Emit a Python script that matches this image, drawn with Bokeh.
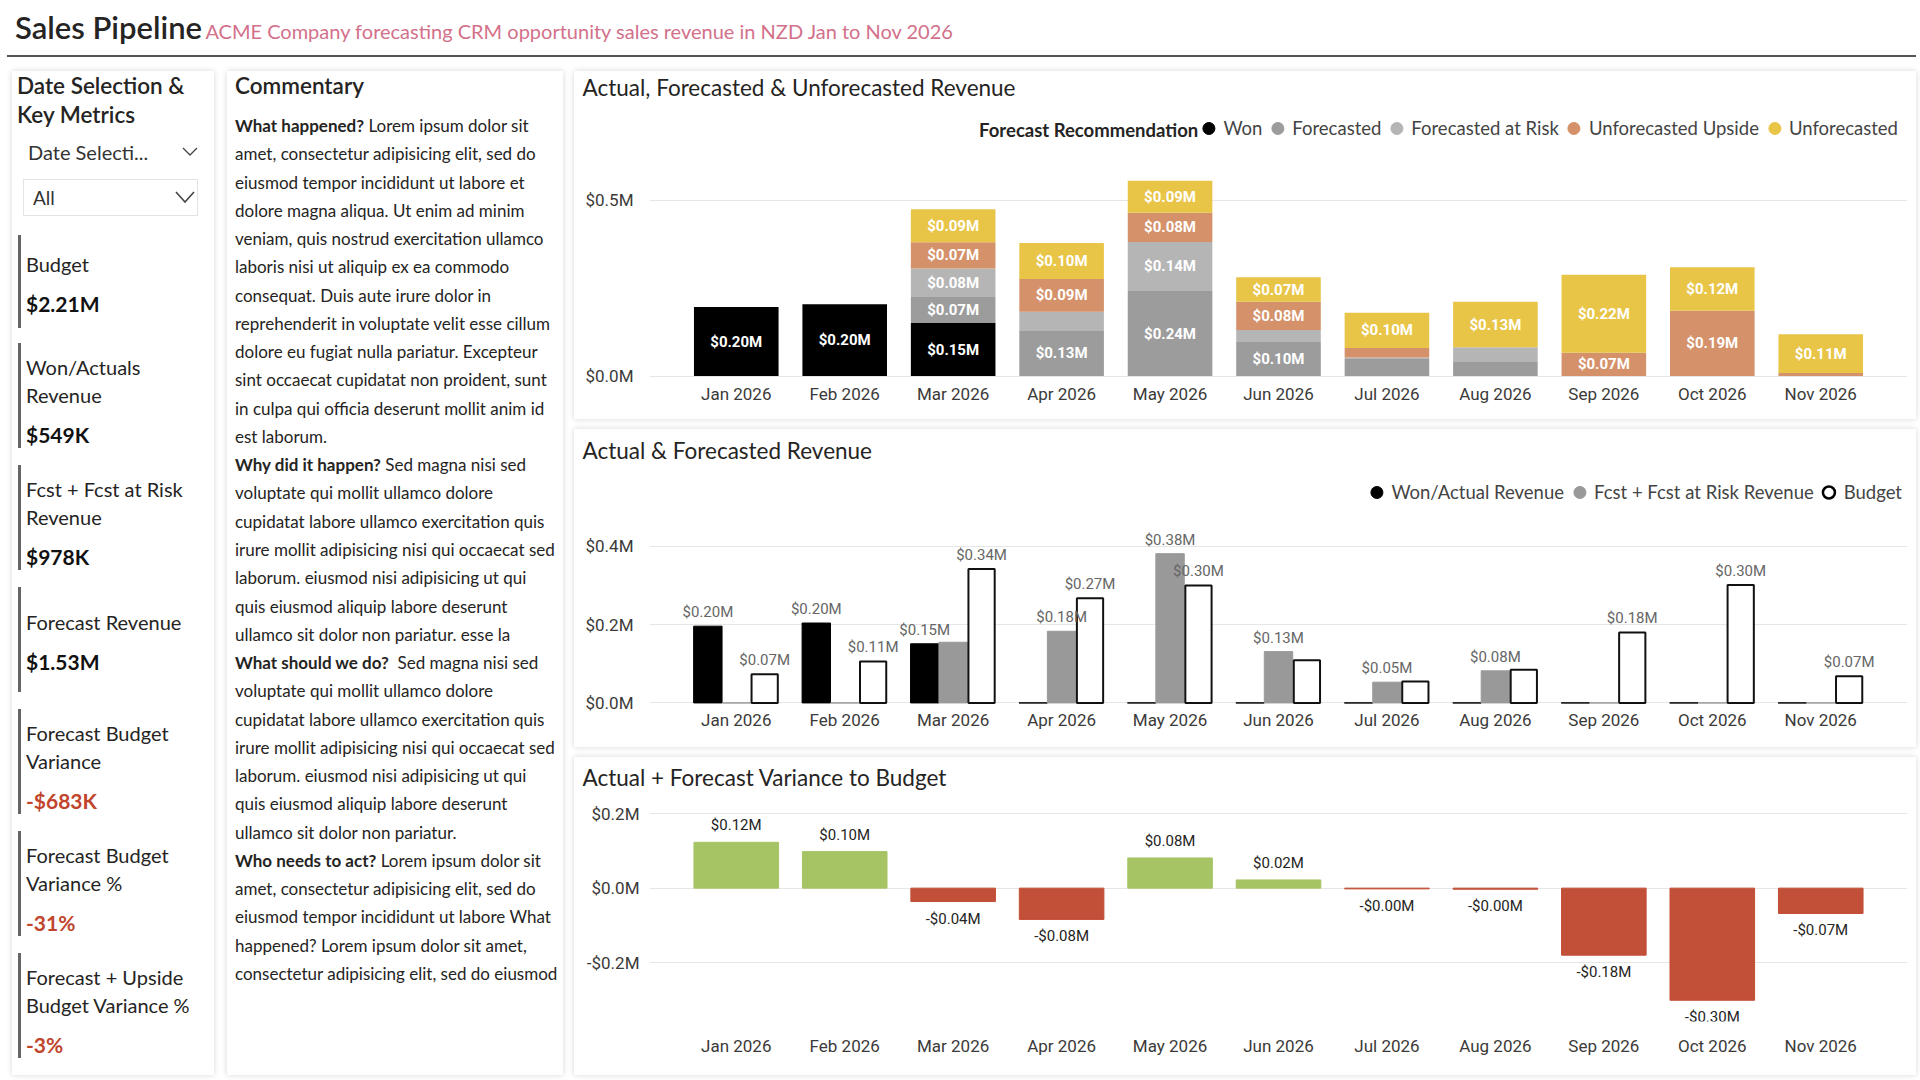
from bokeh.plotting import figure
from bokeh.models import (ColumnDataSource, FactorRange, Range1d, CustomJSTickFormatter,
                          LabelSet, Label, Legend, LegendItem, Div)
from bokeh.layouts import row, column
from bokeh.transform import dodge
from bokeh.core.properties import value
from bokeh.embed import file_html
from bokeh.resources import INLINE

# ---------------- data (NZD, millions) ----------------
months = ["Jan 2026", "Feb 2026", "Mar 2026", "Apr 2026", "May 2026", "Jun 2026",
          "Jul 2026", "Aug 2026", "Sep 2026", "Oct 2026", "Nov 2026"]
won                 = [0.196, 0.204, 0.151, 0, 0, 0, 0, 0, 0, 0, 0]
forecasted          = [0, 0, 0.074, 0.130, 0.242, 0.097, 0.051, 0.042, 0, 0, 0]
forecasted_at_risk  = [0, 0, 0.081, 0.053, 0.139, 0.034, 0.002, 0.040, 0, 0, 0]
unforecasted_upside = [0, 0, 0.074, 0.093, 0.083, 0.080, 0.027, 0, 0.066, 0.186, 0.009]
unforecasted        = [0, 0, 0.094, 0.102, 0.091, 0.070, 0.100, 0.129, 0.222, 0.123, 0.110]
budget              = [0.073, 0.106, 0.342, 0.267, 0.300, 0.109, 0.055, 0.085, 0.180, 0.301, 0.068]

stack_labels = ["Won", "Forecasted", "Forecasted at Risk", "Unforecasted Upside", "Unforecasted"]
mid_labels = ["Won/Actual Revenue", "Fcst + Fcst at Risk Revenue", "Budget"]

kpi_titles = [["Budget"], ["Won/Actuals", "Revenue"], ["Fcst + Fcst at Risk", "Revenue"],
              ["Forecast Revenue"], ["Forecast Budget", "Variance"],
              ["Forecast Budget", "Variance %"], ["Forecast + Upside", "Budget Variance %"]]
kpi_values = ["$2.21M", "$549K", "$978K", "$1.53M", "-$683K", "-31%", "-3%"]

commentary = [
    ("What happened?", " Lorem ipsum dolor sit"),
    ("", "amet, consectetur adipisicing elit, sed do"),
    ("", "eiusmod tempor incididunt ut labore et"),
    ("", "dolore magna aliqua. Ut enim ad minim"),
    ("", "veniam, quis nostrud exercitation ullamco"),
    ("", "laboris nisi ut aliquip ex ea commodo"),
    ("", "consequat. Duis aute irure dolor in"),
    ("", "reprehenderit in voluptate velit esse cillum"),
    ("", "dolore eu fugiat nulla pariatur. Excepteur"),
    ("", "sint occaecat cupidatat non proident, sunt"),
    ("", "in culpa qui officia deserunt mollit anim id"),
    ("", "est laborum."),
    ("Why did it happen?", " Sed magna nisi sed"),
    ("", "voluptate qui mollit ullamco dolore"),
    ("", "cupidatat labore ullamco exercitation quis"),
    ("", "irure mollit adipisicing nisi qui occaecat sed"),
    ("", "laborum. eiusmod nisi adipisicing ut qui"),
    ("", "quis eiusmod aliquip labore deserunt"),
    ("", "ullamco sit dolor non pariatur. esse la"),
    ("What should we do?", "&nbsp; Sed magna nisi sed"),
    ("", "voluptate qui mollit ullamco dolore"),
    ("", "cupidatat labore ullamco exercitation quis"),
    ("", "irure mollit adipisicing nisi qui occaecat sed"),
    ("", "laborum. eiusmod nisi adipisicing ut qui"),
    ("", "quis eiusmod aliquip labore deserunt"),
    ("", "ullamco sit dolor non pariatur."),
    ("Who needs to act?", " Lorem ipsum dolor sit"),
    ("", "amet, consectetur adipisicing elit, sed do"),
    ("", "eiusmod tempor incididunt ut labore What"),
    ("", "happened? Lorem ipsum dolor sit amet,"),
    ("", "consectetur adipisicing elit, sed do eiusmod"),
]

# ---------------- styles ----------------
TXT = "Lato"
NUM = "Roboto"
DARK = "#252423"
STACK_COLORS = ["#000000", "#9C9C9C", "#B5B5B5", "#D4916A", "#E8C547"]
GREEN, RED = "#A7C465", "#C24F37"
SHADOW = {"box-shadow": "0 0 6px rgba(0,0,0,0.16)", "background-color": "white"}
PANEL_W = 1342
FRAME_LEFT = 75

fmt = CustomJSTickFormatter(code="""
    const a = Math.abs(tick).toFixed(1);
    return (tick < -1e-9 ? "-" : "") + "$" + a + "M";
""")


def money(v):
    return ("-" if v < 0 else "") + "$" + f"{abs(v):.2f}" + "M"


def base_fig(title, ylo, yhi, ticks, height, mbt, mbb, tstand, xstand, ystand):
    p = figure(x_range=FactorRange(factors=months, range_padding=0.3,
                                   range_padding_units="absolute"),
               y_range=Range1d(ylo, yhi), width=PANEL_W, height=height,
               output_backend="svg", toolbar_location=None, title=title,
               min_border_left=FRAME_LEFT, min_border_right=9, min_border_top=mbt,
               min_border_bottom=mbb)
    p.styles = SHADOW
    p.border_fill_color = "white"
    p.background_fill_color = "white"
    p.outline_line_color = None
    p.title.text_font = TXT
    p.title.text_font_size = "22.5px"
    p.title.text_font_style = "normal"
    p.title.text_color = DARK
    p.title.offset = -(FRAME_LEFT - 8)
    p.title.standoff = tstand
    p.xgrid.grid_line_color = None
    p.ygrid.grid_line_color = "#E6E6E6"
    p.yaxis.ticker = ticks
    p.yaxis.formatter = fmt
    for ax in (p.xaxis, p.yaxis):
        ax.axis_line_color = None
        ax.major_tick_line_color = None
        ax.minor_tick_line_color = None
        ax.major_tick_out = 0
        ax.major_tick_in = 0
        ax.minor_tick_out = 0
        ax.major_label_text_font = NUM
        ax.major_label_text_font_size = "17px"
        ax.major_label_text_color = "#3B3A39"
    p.yaxis.major_label_standoff = ystand
    p.xaxis.major_label_standoff = xstand
    return p


def legend_for(p, renderers, labels, margin, padding):
    lg = Legend(items=[LegendItem(label=l, renderers=[r]) for l, r in zip(labels, renderers)],
                orientation="horizontal", location="top_right", click_policy="none",
                glyph_width=30, glyph_height=38, label_standoff=0, spacing=0,
                margin=margin, padding=padding, border_line_color=None,
                background_fill_alpha=0, label_text_font=TXT,
                label_text_font_size="18.5px", label_text_color="#444444")
    p.add_layout(lg)
    return lg


# ---------------- chart 1: stacked ----------------
p1 = base_fig("Actual, Forecasted & Unforecasted Revenue", -0.004, 0.783, [0, 0.5],
              348, 29, 42, 0, 6, 16)
series = [won, forecasted, forecasted_at_risk, unforecasted_upside, unforecasted]
keys = ["won", "fc", "far", "up", "unf"]
src1 = ColumnDataSource(dict(month=months, **{k: s for k, s in zip(keys, series)}))
p1.vbar_stack(keys, x="month", width=0.78, source=src1, color=STACK_COLORS, line_width=0)

lx, ly, lt = [], [], []
for i, m in enumerate(months):
    base = 0.0
    for s in series:
        v = s[i]
        if v >= 0.06:
            lx.append(m)
            ly.append(base + v / 2)
            lt.append(money(v))
        base += v
p1.add_layout(LabelSet(x="x", y="y", text="t", source=ColumnDataSource(dict(x=lx, y=ly, t=lt)),
                       text_align="center", text_baseline="middle", text_color="white",
                       text_font=value(NUM), text_font_size="15px", text_font_style="bold"))

# legend proxies (hidden renderers drawn from the same data, shown only as legend circles)
proxies1 = [p1.scatter(x="month", y=k, source=src1, marker="circle", size=12,
                       fill_color=c, line_color=c, visible=False)
            for k, c in zip(keys, STACK_COLORS)]
legend_for(p1, proxies1, stack_labels, 9, 4)
p1.add_layout(Label(x=4.76, y=0.70, text="Forecast Recommendation", text_align="right",
                    text_baseline="middle", text_font=TXT, text_font_size="18.5px",
                    text_font_style="bold", text_color=DARK))

# ---------------- chart 2: clustered ----------------
fcst_total = [f + r for f, r in zip(forecasted, forecasted_at_risk)]
p2 = base_fig("Actual & Forecasted Revenue", -0.004, 0.5985, [0, 0.2, 0.4],
              318, 39, 43, 9, 5, 16)
src2 = ColumnDataSource(dict(month=months, won=won, fcst=fcst_total, budget=budget))
W = 0.262
p2.vbar(x=dodge("month", -W, range=p2.x_range), top="won", width=W, source=src2,
        fill_color="#000000", line_color="#000000")
p2.vbar(x=dodge("month", 0.0, range=p2.x_range), top="fcst", width=W, source=src2,
        fill_color="#999999", line_color="#999999")
p2.vbar(x=dodge("month", W, range=p2.x_range), top="budget", width=W - 0.02, source=src2,
        fill_color="white", line_color="#111111", line_width=2)

lab = {-W: ([], [], []), 0.0: ([], [], []), W: ([], [], [])}
for i, m in enumerate(months):
    shown = []
    for off, vals in [(-W, won), (0.0, fcst_total), (W, budget)]:
        v = vals[i]
        if v <= 0 or any(abs(v - s) < 0.03 for s in shown):
            continue
        shown.append(v)
        lab[off][0].append(m)
        lab[off][1].append(v)
        lab[off][2].append(money(v))
for off, (xs, ys, ts) in lab.items():
    p2.add_layout(LabelSet(x=dodge("x", off, range=p2.x_range), y="y", text="t",
                           source=ColumnDataSource(dict(x=xs, y=ys, t=ts)),
                           text_align="center", text_baseline="bottom", y_offset=5,
                           text_color="#666666", text_font=value(NUM), text_font_size="15px"))
proxies2 = [
    p2.scatter(x="month", y="won", source=src2, marker="circle", size=12,
               fill_color="#000000", line_color="#000000", visible=False),
    p2.scatter(x="month", y="fcst", source=src2, marker="circle", size=12,
               fill_color="#999999", line_color="#999999", visible=False),
    p2.scatter(x="month", y="budget", source=src2, marker="circle", size=12,
               fill_color="white", line_color="#000000", line_width=2.5, visible=False),
]
legend_for(p2, proxies2, mid_labels, 5, 3)

# ---------------- chart 3: variance ----------------
variance = [w + f - b for w, f, b in zip(won, fcst_total, budget)]
p3 = base_fig("Actual + Forecast Variance to Budget", -0.358, 0.254, [-0.2, 0, 0.2],
              318, 36, 54, 6, 14, 10)
src3 = ColumnDataSource(dict(month=months, v=variance,
                             c=[GREEN if v >= 0 else RED for v in variance]))
p3.vbar(x="month", top="v", bottom=0, width=0.78, source=src3, fill_color="c", line_color="c")
pos = [(m, v) for m, v in zip(months, variance) if v >= 0]
neg = [(m, v) for m, v in zip(months, variance) if v < 0]
p3.add_layout(LabelSet(x="x", y="y", text="t",
                       source=ColumnDataSource(dict(x=[a for a, _ in pos], y=[b for _, b in pos],
                                                    t=[money(b) for _, b in pos])),
                       text_align="center", text_baseline="bottom", y_offset=8,
                       text_color=DARK, text_font=value(NUM), text_font_size="15px"))
p3.add_layout(LabelSet(x="x", y="y", text="t",
                       source=ColumnDataSource(dict(x=[a for a, _ in neg], y=[b for _, b in neg],
                                                    t=[money(b) for _, b in neg])),
                       text_align="center", text_baseline="top", y_offset=-8,
                       text_color=DARK, text_font=value(NUM), text_font_size="15px"))


# ---------------- HTML panels ----------------
def txt(x, yc, s, size, weight=400, color=DARK, lh=None):
    lh = lh or round(size * 1.4)
    return (f'<div style="position:absolute;left:{x}px;top:{yc - lh / 2:.1f}px;line-height:{lh}px;'
            f'font-family:{TXT};font-size:{size}px;font-weight:{weight};color:{color};'
            f'white-space:nowrap;">{s}</div>')


def chevron(x, yc, w, h, sw):
    return (f'<svg width="{w + 2}" height="{h + 2}" style="position:absolute;left:{x}px;'
            f'top:{yc - h / 2 - 1:.1f}px;"><polyline points="1,1 {w / 2 + 1},{h + 1} {w + 1},1" '
            f'fill="none" stroke="#444" stroke-width="{sw}"/></svg>')


header_html = ('<div style="position:relative;width:1909px;height:55px;">'
               '<div style="position:absolute;left:8px;top:7px;line-height:40px;white-space:nowrap;">'
               f'<span style="font-family:{TXT};font-size:31px;font-weight:600;color:{DARK};">'
               'Sales Pipeline</span> '
               f'<span style="font-family:{TXT};font-size:20px;color:#D3708A;">'
               'ACME Company forecasting CRM opportunity sales revenue in NZD Jan to Nov 2026'
               '</span></div></div>')
header = Div(text=header_html, width=1909, height=57,
             styles={"border-bottom": "2px solid #555555"}, margin=(0, 0, 14, 7))

PANEL_H = 1004
# left panel
parts = [f'<div style="position:relative;width:202px;height:{PANEL_H}px;">']
parts.append(txt(5, 15, "Date Selection &amp;", 22.5, 600, lh=30))
parts.append(txt(5, 44, "Key Metrics", 22.5, 600, lh=30))
parts.append(txt(16, 81, "Date Selecti...", 20, 400, "#333"))
parts.append(chevron(170, 80, 14, 7, 1.3))
parts.append('<div style="position:absolute;left:11px;top:108px;width:175px;height:37px;'
             'border:1px solid #E3E3E3;box-sizing:border-box;"></div>')
parts.append(txt(21, 126, "All", 19, 400, "#333"))
parts.append(chevron(163, 126, 18, 10, 1.6))
card_tops = [164, 272, 394, 516, 638, 760, 882]
for top, title_lines, val in zip(card_tops, kpi_titles, kpi_values):
    if len(title_lines) == 1:
        first = 29 if title_lines[0] == "Budget" else 35
        bar_h = 93 if title_lines[0] == "Budget" else 105
        parts.append(txt(14, top + first, title_lines[0], 20))
        vy = top + first + 39
    else:
        bar_h = 105
        parts.append(txt(14, top + 24, title_lines[0], 20))
        parts.append(txt(14, top + 52, title_lines[1], 20))
        vy = top + 91
    col = "#C0452C" if val.startswith("-") else "#111111"
    parts.append(f'<div style="position:absolute;left:6px;top:{top}px;width:3px;height:{bar_h}px;'
                 f'background:#666666;"></div>')
    parts.append(txt(14, vy, val, 21, 700, col))
parts.append('</div>')
left_panel = Div(text="".join(parts), width=202, height=PANEL_H, styles=SHADOW,
                 margin=(0, 13, 0, 12))

# commentary panel
cparts = [f'<div style="position:relative;width:336px;height:{PANEL_H}px;">']
cparts.append(txt(8, 15, "Commentary", 22.5, 600, lh=30))
body = []
for b, rest in commentary:
    body.append((f'<b>{b}</b>' if b else "") + rest)
cparts.append(f'<div style="position:absolute;left:8px;top:41px;line-height:28.27px;'
              f'font-family:{TXT};font-size:17px;color:{DARK};white-space:nowrap;">'
              + "<br>".join(body) + '</div>')
cparts.append('</div>')
comm_panel = Div(text="".join(cparts), width=336, height=PANEL_H, styles=SHADOW,
                 margin=(0, 11, 0, 0))

p1.margin = (0, 0, 10, 0)
p2.margin = (0, 0, 10, 0)
charts = column(p1, p2, p3)
layout = column(header, row(left_panel, comm_panel, charts))

open("out.html", "w").write(file_html(layout, INLINE, title="Sales Pipeline"))
